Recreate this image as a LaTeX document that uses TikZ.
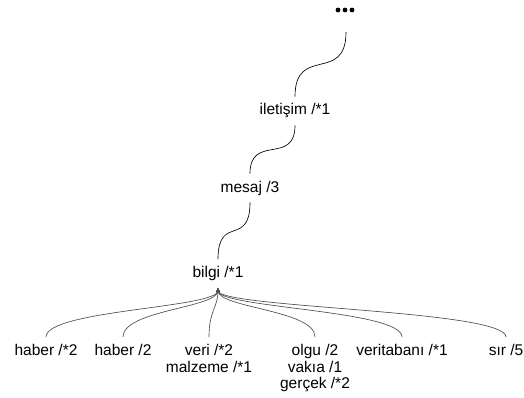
\documentclass[tikz,border=0pt]{standalone}
\usepackage{fontspec}
\setmainfont{Liberation Sans}
\usetikzlibrary{arrows.meta}
\begin{document}
\begin{tikzpicture}[x=1pt,y=-1pt,
  lbl/.style={font=\fontsize{15.5}{16.7}\selectfont, inner xsep=0pt, inner ysep=7pt, text=black},
  leaf/.style={lbl, anchor=north, align=center},
  link/.style={line width=0.65pt, draw=black},
  feed/.style={line width=0.65pt, draw=black!70, -{Stealth[length=4.5pt,width=4pt]}}]
\useasboundingbox (0,0) rectangle (524,398);

% ellipsis at the top of the chain
\fill (338,10) circle (2.4pt) (345,10) circle (2.4pt) (352,10) circle (2.4pt);
\coordinate (top) at (346,32);

% chain of terms
\node[lbl] (ilet)  at (295,111)   {iletişim /*1};
\node[lbl] (mesaj) at (250,188)   {mesaj /3};
\node[lbl] (bilgi) at (218,273.5) {bilgi /*1};

\draw[link] (top) .. controls +(0,52) and +(0,-52) .. (ilet.north);
\draw[link] (ilet.south) .. controls +(0,40) and +(0,-40) .. (mesaj.north);
\draw[link] (mesaj.south) .. controls +(0,45) and +(0,-45) .. (bilgi.north);

% leaves
\node[leaf] (h1)   at (46,337)  {haber /*2};
\node[leaf] (h2)   at (123,337) {haber /2};
\node[leaf] (veri) at (209,337) {veri /*2\\malzeme /*1};
\node[leaf] (olgu) at (315,337) {olgu /2\\vakıa /1\\gerçek /*2};
\node[leaf] (vt)   at (402,337) {veritabanı /*1};
\node[leaf] (sir)  at (506,337) {sır /5};

\foreach \n in {h1,h2,veri,olgu,vt,sir}
  \draw[feed] (\n.north) .. controls +(0,-27) and +(0,20) .. (bilgi.south);
\end{tikzpicture}
\end{document}
